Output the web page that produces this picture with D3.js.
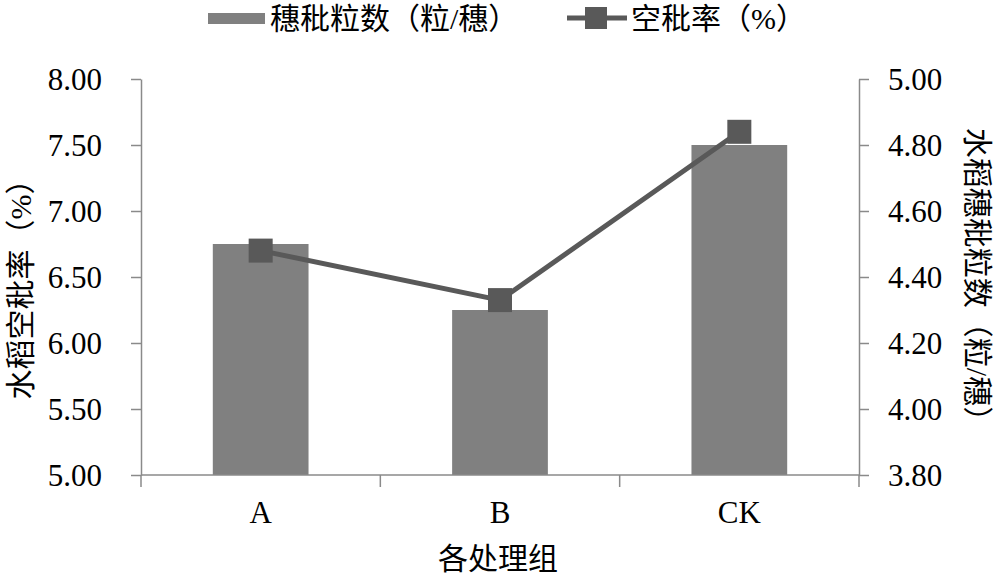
<!DOCTYPE html>
<html><head><meta charset="utf-8">
<script src="https://cdn.jsdelivr.net/npm/d3@7"></script>
<style>
html,body{margin:0;padding:0;background:#fff;}
svg text{font-family:"Liberation Serif","Times New Roman","Noto Sans CJK SC",serif;fill:#000;}
</style></head>
<body><svg id="chart" width="1000" height="577"></svg>
<script>
const categories = ["A", "B", "CK"];
const barValues = [6.75, 6.25, 7.50];      // 穗秕粒数 drawn against left axis
const lineValues = [4.48, 4.33, 4.84];     // 空秕率 drawn against right axis
const leftTicks = [5.00, 5.50, 6.00, 6.50, 7.00, 7.50, 8.00];
const rightTicks = [3.80, 4.00, 4.20, 4.40, 4.60, 4.80, 5.00];
const barLegend = "穗秕粒数（粒/穗）";
const lineLegend = "空秕率（%）";
const leftTitle = "水稻空秕率（%）";
const rightTitle = "水稻穗秕粒数（粒/穗）";
const xTitle = "各处理组";

const svg = d3.select("#chart");
const L = 141, R = 859, T = 79, B = 475;
const axisColor = "#8a8a8a", barColor = "#808080", lineColor = "#595959";
const fs = 31, cfs = 30;

const x = d3.scaleBand().domain(categories).range([L, R]).padding(0);
const yL = d3.scaleLinear().domain([5, 8]).range([B, T]);
const yR = d3.scaleLinear().domain([3.8, 5]).range([B, T]);
const bw = x.bandwidth() * 0.4;

// bars
svg.append("g").selectAll("rect").data(categories).join("rect")
  .attr("x", d => x(d) + x.bandwidth()/2 - bw/2)
  .attr("y", (d,i) => yL(barValues[i]))
  .attr("width", bw)
  .attr("height", (d,i) => B - yL(barValues[i]))
  .attr("fill", barColor);

// axes
function styleAxis(g){
  g.select(".domain").attr("stroke", axisColor).attr("stroke-width", 1.5);
  g.selectAll(".tick line").attr("stroke", axisColor).attr("stroke-width", 1.5);
  g.selectAll(".tick text").attr("font-size", fs).attr("fill", "#000")
    .style("font-family", '"Liberation Serif","Times New Roman",serif');
}
svg.append("g").attr("transform", `translate(${L},0)`)
  .call(d3.axisLeft(yL).tickValues(leftTicks).tickFormat(d3.format(".2f")).tickSize(10).tickPadding(29).tickSizeOuter(0))
  .call(styleAxis).call(g => g.selectAll(".tick text").attr("dy", "0.35em"));
svg.append("g").attr("transform", `translate(${R},0)`)
  .call(d3.axisRight(yR).tickValues(rightTicks).tickFormat(d3.format(".2f")).tickSize(10).tickPadding(19).tickSizeOuter(0))
  .call(styleAxis).call(g => g.selectAll(".tick text").attr("dy", "0.35em"));

// x axis: baseline and boundary ticks
const xg = svg.append("g");
xg.append("line").attr("x1", L).attr("x2", R).attr("y1", B).attr("y2", B)
  .attr("stroke", axisColor).attr("stroke-width", 1.5);
const bounds = categories.map(c => x(c)).concat([R]);
xg.selectAll("line.b").data(bounds).join("line").attr("class","b")
  .attr("x1", d => d).attr("x2", d => d).attr("y1", B).attr("y2", B + 12)
  .attr("stroke", axisColor).attr("stroke-width", 1.5);
xg.selectAll("text").data(categories).join("text")
  .attr("x", d => x(d) + x.bandwidth()/2).attr("y", 523)
  .attr("text-anchor", "middle").attr("font-size", fs).text(d => d);

// line series
const lineGen = d3.line().x((d,i) => x(categories[i]) + x.bandwidth()/2).y(d => yR(d));
svg.append("path").datum(lineValues).attr("d", lineGen)
  .attr("fill", "none").attr("stroke", lineColor).attr("stroke-width", 5);
const ms = 24;
svg.append("g").selectAll("rect").data(lineValues).join("rect")
  .attr("x", (d,i) => x(categories[i]) + x.bandwidth()/2 - ms/2)
  .attr("y", d => yR(d) - ms/2)
  .attr("width", ms).attr("height", ms).attr("fill", lineColor);

// titles
svg.append("text").attr("transform", `translate(31,282) rotate(-90)`)
  .attr("text-anchor", "middle").attr("font-size", cfs).text(leftTitle);
svg.append("text").attr("transform", `translate(967,282) rotate(90)`)
  .attr("text-anchor", "middle").attr("font-size", cfs).text(rightTitle);
svg.append("text").attr("x", 498).attr("y", 569)
  .attr("text-anchor", "middle").attr("font-size", cfs).text(xTitle);

// legend
const lg = svg.append("g");
lg.append("rect").attr("x", 208).attr("y", 13).attr("width", 57).attr("height", 11).attr("fill", barColor);
lg.append("text").attr("x", 270).attr("y", 29).attr("font-size", cfs).text(barLegend);
lg.append("line").attr("x1", 567).attr("x2", 627).attr("y1", 18).attr("y2", 18)
  .attr("stroke", lineColor).attr("stroke-width", 5);
lg.append("rect").attr("x", 585).attr("y", 7).attr("width", 22).attr("height", 22).attr("fill", lineColor);
lg.append("text").attr("x", 631).attr("y", 29).attr("font-size", cfs).text(lineLegend);
</script>
</body></html>
